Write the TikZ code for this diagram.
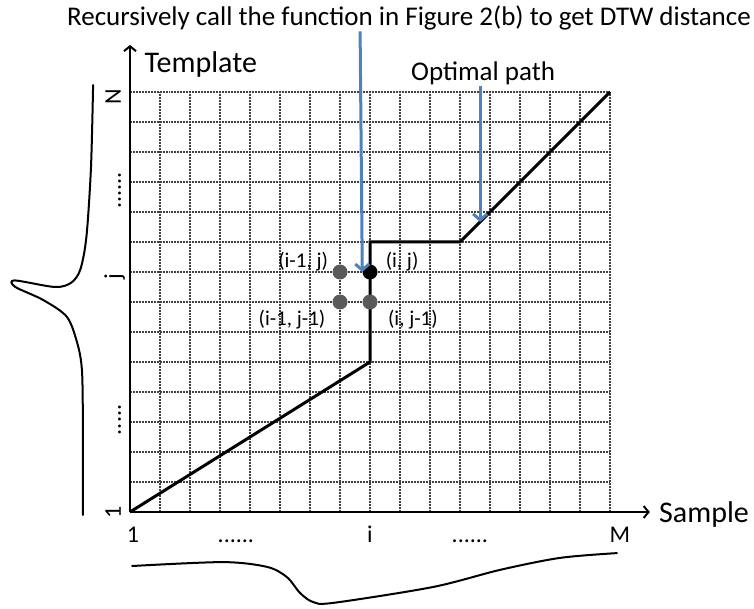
\documentclass[tikz,border=0pt]{standalone}
\usepackage{fontspec}
\setmainfont{Carlito}
\usetikzlibrary{arrows.meta,positioning,calc}

\definecolor{arrowblue}{RGB}{79,129,189}
\definecolor{dotgray}{RGB}{90,90,90}

\begin{document}
\begin{tikzpicture}[x=30pt,y=30pt,
    gridline/.style={black!75,line width=1.1pt,dash pattern=on 1pt off 0.5pt},
    axis/.style={line width=2pt,-{Straight Barb[length=5pt,width=12pt]}},
    warppath/.style={line width=3pt,line join=miter},
    signal/.style={line width=2pt,line cap=round,line join=round},
    pointer/.style={arrowblue,line width=3pt,-{Straight Barb[length=6pt,width=14pt]}},
    cell/.style={circle,fill=dotgray,minimum size=15pt,inner sep=0pt},
    lbl/.style={font=\fontsize{21}{23}\selectfont,inner sep=1pt},
    tick/.style={font=\fontsize{24}{26}\selectfont,inner sep=0pt,anchor=base},
    note/.style={font=\fontsize{27}{30}\selectfont,inner sep=1pt},
    big/.style={font=\fontsize{30}{33}\selectfont,inner sep=1pt}]
    \useasboundingbox (-4.3333,-3.2) rectangle (20.8,17.0667);

    % Grid
    \foreach \x in {0,...,16}
        \draw[gridline] (\x,0) -- (\x,14);
    \foreach \y in {0,...,14}
        \draw[gridline] (0,\y) -- (16,\y);

    % Coordinate system
    \coordinate (O) at (0,0);
    \coordinate (ytip) at (0,15.57);
    \coordinate (xtip) at (17.33,0);
    \draw[axis] (O) -- (ytip);
    \draw[axis] (O) -- (xtip);
    \node[big,anchor=west] (template) at (0.45,14.9) {Template};
    \node[big,anchor=west] (sample) at (17.6,-0.07) {Sample};

    % Optimal warping path
    \draw[warppath] (O) -- (8,5) -- (8,9) -- (11,9) -- (16,14);

    % Axis ticks
    \node[tick] (s1) at (0.1,-1.03) {1};
    \node[tick] (sdots1) at (3.53,-1.03) {......};
    \node[tick] (si) at (8,-1.03) {i};
    \node[tick] (sdots2) at (11.33,-1.03) {......};
    \node[tick] (sM) at (16.33,-1.03) {M};
    \node[tick,rotate=90] (t1) at (-0.3,0) {1};
    \node[tick,rotate=90] (tdots1) at (-0.3,3.07) {.....};
    \node[tick,rotate=90] (tj) at (-0.3,7.83) {j};
    \node[tick,rotate=90] (tdots2) at (-0.3,10.73) {......};
    \node[tick,rotate=90] (tN) at (-0.3,13.83) {N};

    % Neighbouring cells
    \node[cell] (im1j) at (7,8) {};
    \node[cell,fill=black] (ij) at (8,8) {};
    \node[cell] (im1jm1) at (7,7) {};
    \node[cell] (ijm1) at (8,7) {};
    \node[lbl] at (5.77,8.33) {(i-1, j)};
    \node[lbl] at (9.07,8.33) {(i, j)};
    \node[lbl] at (5.4,6.4) {(i-1, j-1)};
    \node[lbl] at (9.43,6.4) {(i, j-1)};

    % Signals
    \draw[signal] plot[smooth,tension=0.5] coordinates {(-1.23,14.23) (-1.3,11.5)
        (-1.45,9.2) (-1.65,8.1) (-1.95,7.65) (-2.5,7.5) (-3.85,7.72) (-3.82,7.5)
        (-2.9,7.07) (-2.1,6.5) (-1.75,5.6) (-1.6,4.7) (-1.57,2.8) (-1.57,-0.1)};
    \draw[signal] plot[smooth] coordinates {(0.07,-1.8) (3.1,-1.67) (4.57,-1.83)
        (5.23,-2.17) (5.67,-2.7) (6.1,-3.0) (6.77,-3.03) (10.1,-2.5) (12.33,-1.93)
        (14.33,-1.53) (16.23,-1.37)};

    % Annotations
    \node[note] (title) at (9.3,16.47) {Recursively call the function in Figure 2(b) to get DTW distance};
    \node[note] (optimal) at (11.77,14.63) {Optimal path};
    \coordinate (callfrom) at (7.67,16.02);
    \coordinate (onpath) at (11.67,9.67);
    \draw[pointer] (callfrom) -- (ij.west);
    \draw[pointer] (optimal.south -| onpath) -- (onpath);
\end{tikzpicture}
\end{document}
